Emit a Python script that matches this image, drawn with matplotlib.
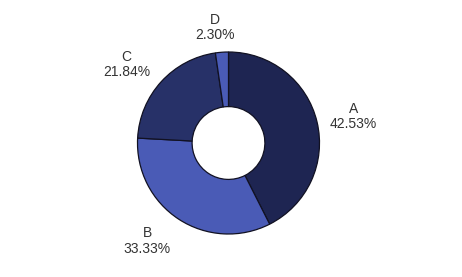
import numpy as np
import matplotlib.pyplot as plt

plt.rcParams['font.family'] = ['Liberation Sans', 'DejaVu Sans']

categories = ['A', 'B', 'C', 'D']
shares = [42.53, 33.33, 21.84, 2.30]
colors = ['#1e2552', '#4a5bb6', '#273168', '#4a5bb6']

# label layout: distance (in radii) and angle nudge in degrees
label_dist = [1.40, 1.40, 1.41, 1.28]
label_nudge = [-1.6, -6.6, 4.9, 2.5]

fig = plt.figure(figsize=(4.62, 2.77), dpi=100)
r_px = 91
cx, cy = 228.5, 277 - 143
ax = fig.add_axes([(cx - r_px) / 462, (cy - r_px) / 277, 2 * r_px / 462, 2 * r_px / 277])

wedges, _ = ax.pie(shares, colors=colors, startangle=90, counterclock=False,
                   radius=1.0, wedgeprops=dict(width=0.6, edgecolor='#111122', linewidth=0.9))
ax.set_xlim(-1, 1)
ax.set_ylim(-1, 1)
ax.set_aspect('equal')
ax.axis('off')

for w, cat, val, d, n in zip(wedges, categories, shares, label_dist, label_nudge):
    ang = np.deg2rad((w.theta1 + w.theta2) / 2 + n)
    ax.text(d * np.cos(ang), d * np.sin(ang), f'{cat}\n{val:.2f}%', ha='center', va='center',
            fontsize=10, color='#333333', linespacing=1.1, clip_on=False)

fig.savefig('out.png', dpi=100)
